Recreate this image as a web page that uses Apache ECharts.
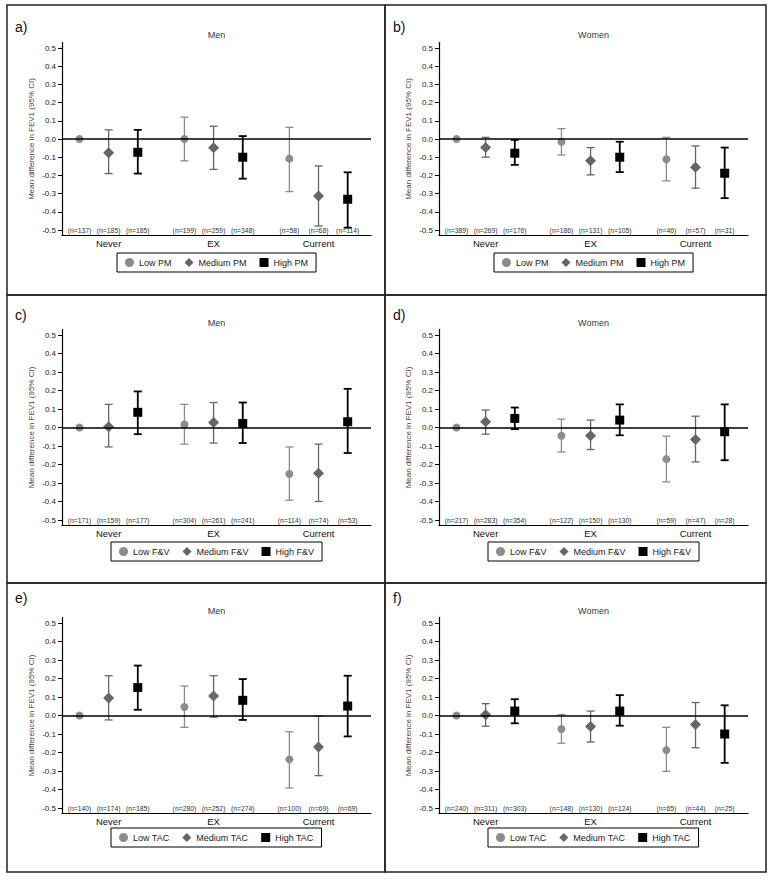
<!DOCTYPE html>
<html><head><meta charset="utf-8">
<script src="https://cdn.jsdelivr.net/npm/echarts@6/dist/echarts.min.js"></script>
<style>html,body{margin:0;padding:0;background:#fff}#c{width:772px;height:880px}</style>
</head><body><div id="c"></div>
<script>
// ---------------- data ----------------
const categories = ['Never', 'EX', 'Current'];
const levelNames = ['Low', 'Medium', 'High'];
const panelLabels = ['a)', 'b)', 'c)', 'd)', 'e)', 'f)'];
const panelTitles = ['Men', 'Women', 'Men', 'Women', 'Men', 'Women'];
const exposures = ['PM', 'PM', 'F&V', 'F&V', 'TAC', 'TAC'];
const yTicks = [-0.5, -0.4, -0.3, -0.2, -0.1, 0, 0.1, 0.2, 0.3, 0.4, 0.5];
const yAxisName = 'Mean difference in FEV1 (95% CI)';

// order in every array: Never L,M,H | EX L,M,H | Current L,M,H
const meanA = [0, -0.075, -0.073, 0, -0.048, -0.10, -0.108, -0.313, -0.331];
const lowA  = [null, -0.19, -0.19, -0.12, -0.167, -0.218, -0.289, -0.478, -0.487];
const highA = [null, 0.05, 0.05, 0.12, 0.07, 0.016, 0.064, -0.148, -0.183];
const nA    = [137, 185, 185, 199, 259, 348, 58, 68, 114];

const meanB = [0, -0.047, -0.078, -0.015, -0.12, -0.10, -0.111, -0.155, -0.188];
const lowB  = [null, -0.10, -0.142, -0.088, -0.197, -0.182, -0.23, -0.27, -0.325];
const highB = [null, 0.009, -0.005, 0.057, -0.047, -0.015, 0.009, -0.038, -0.047];
const nB    = [389, 269, 176, 186, 131, 105, 46, 57, 31];

const meanC = [0, 0.004, 0.082, 0.016, 0.027, 0.022, -0.251, -0.247, 0.031];
const lowC  = [null, -0.105, -0.036, -0.09, -0.084, -0.084, -0.393, -0.40, -0.138];
const highC = [null, 0.125, 0.195, 0.125, 0.135, 0.135, -0.105, -0.09, 0.209];
const nC    = [171, 159, 177, 304, 261, 241, 114, 74, 53];

const meanD = [0, 0.031, 0.049, -0.045, -0.045, 0.04, -0.171, -0.065, -0.023];
const lowD  = [null, -0.036, -0.009, -0.132, -0.119, -0.042, -0.294, -0.186, -0.177];
const highD = [null, 0.094, 0.108, 0.045, 0.04, 0.125, -0.047, 0.061, 0.125];
const nD    = [217, 283, 354, 122, 150, 130, 59, 47, 28];

const meanE = [0, 0.095, 0.151, 0.046, 0.106, 0.082, -0.237, -0.17, 0.051];
const lowE  = [null, -0.024, 0.031, -0.064, -0.009, -0.024, -0.392, -0.325, -0.113];
const highE = [null, 0.215, 0.27, 0.159, 0.215, 0.197, -0.088, -0.004, 0.215];
const nE    = [140, 174, 185, 280, 252, 274, 100, 69, 69];

const meanF = [0, 0.004, 0.024, -0.073, -0.059, 0.024, -0.187, -0.049, -0.1];
const lowF  = [null, -0.058, -0.042, -0.15, -0.143, -0.055, -0.302, -0.174, -0.256];
const highF = [null, 0.064, 0.088, 0.005, 0.024, 0.11, -0.064, 0.07, 0.055];
const nF    = [240, 311, 303, 148, 130, 124, 65, 44, 25];

const means = [meanA, meanB, meanC, meanD, meanE, meanF];
const lows = [lowA, lowB, lowC, lowD, lowE, lowF];
const highs = [highA, highB, highC, highD, highE, highF];
const ns = [nA, nB, nC, nD, nE, nF];

// ---------------- layout / style ----------------
const FONT = 'Liberation Sans, Arial, Helvetica, sans-serif';
const GROUP_STEP = 3.6;
const X_MIN = -0.6, X_MAX = 10;
const Y_MIN = -0.53, Y_MAX = 0.53;
const colPanelX = [7, 385], colPanelW = [378, 381];
const rowPanelY = [5, 295, 583], rowPanelH = [290, 288, 289];
const colAxisX = [62, 439], plotW = 309;
const rowY05 = [48, 335, 623], rowScale = [182, 185, 185];
const rowLegendTop = [253, 542, 828];
const rowLabelY = [27, 315, 598], rowTitleY = [35, 323, 611];
const levelColors = ['#8c8c8c', '#666666', '#000000'];
const levelSymbols = ['circle', 'diamond', 'rect'];
const levelSizes = [8, 11, 9];
const levelErrW = [1.3, 1.3, 1.8];

const ctx = document.createElement('canvas').getContext('2d');
function textW(t, size) { ctx.font = size + 'px ' + FONT; return ctx.measureText(t).width; }

const chart = echarts.init(document.getElementById('c'), null, { renderer: 'svg' });

const grids = [], xAxes = [], yAxes = [], series = [], legends = [], graphics = [];

for (let p = 0; p < 6; p++) {
  const col = p % 2, row = Math.floor(p / 2);
  const s = rowScale[row];
  const top = rowY05[row] - (Y_MAX - 0.5) * s;
  const height = (Y_MAX - Y_MIN) * s;
  grids.push({ left: colAxisX[col], top: top, width: plotW, height: height, containLabel: false });
  xAxes.push({
    type: 'value', gridIndex: p, min: X_MIN, max: X_MAX, position: 'bottom',
    axisLine: { onZero: false, lineStyle: { color: '#000', width: 1.2 } },
    axisTick: { show: false },
    splitLine: { show: false },
    axisLabel: {
      customValues: categories.map((c, g) => g * GROUP_STEP + 1),
      formatter: v => categories[Math.round((v - 1) / GROUP_STEP)],
      fontSize: 9.5, fontFamily: FONT, color: '#111', margin: 3
    }
  });
  yAxes.push({
    type: 'value', gridIndex: p, min: Y_MIN, max: Y_MAX, position: 'left',
    name: yAxisName, nameLocation: 'middle', nameGap: 27,
    nameTextStyle: { fontSize: 8, fontFamily: FONT, color: '#4d4437' },
    axisLine: { show: true, onZero: false, lineStyle: { color: '#000', width: 1.2 } },
    axisTick: { show: true, length: 4, customValues: yTicks, lineStyle: { color: '#000' } },
    splitLine: { show: false },
    axisLabel: {
      customValues: yTicks, formatter: v => v.toFixed(1),
      fontSize: 8, fontFamily: FONT, color: '#222', margin: 6
    }
  });

  const legendNames = levelNames.map(l => l + ' ' + exposures[p]);
  for (let l = 0; l < 3; l++) {
    const pts = categories.map((c, g) => [g * GROUP_STEP + l, means[p][g * 3 + l]]);
    const errs = [];
    categories.forEach((c, g) => {
      const i = g * 3 + l;
      if (lows[p][i] !== null) errs.push([g * GROUP_STEP + l, lows[p][i], highs[p][i]]);
    });
    const color = levelColors[l], lw = levelErrW[l];
    const errSeries = {
      type: 'custom', xAxisIndex: p, yAxisIndex: p, z: 2, silent: true,
      data: errs,
      renderItem: function (params, api) {
        const x = api.value(0);
        const a = api.coord([x, api.value(1)]);
        const b = api.coord([x, api.value(2)]);
        const w = 4;
        const st = { stroke: color, lineWidth: lw };
        return {
          type: 'group', children: [
            { type: 'line', shape: { x1: a[0], y1: a[1], x2: b[0], y2: b[1] }, style: st },
            { type: 'line', shape: { x1: a[0] - w, y1: a[1], x2: a[0] + w, y2: a[1] }, style: st },
            { type: 'line', shape: { x1: b[0] - w, y1: b[1], x2: b[0] + w, y2: b[1] }, style: st }
          ]
        };
      }
    };
    if (l === 0) {
      errSeries.markLine = {
        silent: true, symbol: ['none', 'none'], label: { show: false },
        lineStyle: { color: '#000', width: 1.5, type: 'solid' },
        data: [{ yAxis: 0 }]
      };
    }
    series.push(errSeries);
    series.push({
      name: legendNames[l], type: 'scatter', xAxisIndex: p, yAxisIndex: p, z: 4,
      symbol: levelSymbols[l], symbolSize: levelSizes[l],
      itemStyle: { color: color, opacity: 1 },
      data: pts, silent: true
    });
  }
  // n labels
  const nData = [];
  categories.forEach((c, g) => { for (let l = 0; l < 3; l++) nData.push([g * GROUP_STEP + l, ns[p][g * 3 + l]]); });
  series.push({
    type: 'custom', xAxisIndex: p, yAxisIndex: p, z: 3, silent: true, clip: false,
    data: nData,
    renderItem: function (params, api) {
      const pt = api.coord([api.value(0), -0.5]);
      return {
        type: 'text', x: pt[0], y: pt[1],
        style: { text: '(n=' + api.value(1) + ')', fontSize: 6.8, fontFamily: FONT, fill: '#333', align: 'center', verticalAlign: 'middle' }
      };
    }
  });

  // legend, centered under the plot
  const itemW = 9, gap = 13, pad = [5, 8], lfs = 9;
  let lw = pad[1] * 2 + gap * 2;
  legendNames.forEach(n => { lw += itemW + 5 + textW(n, lfs); });
  const cx = colAxisX[col] + plotW / 2;
  legends.push({
    data: legendNames, selectedMode: false,
    left: Math.round(cx - lw / 2), top: rowLegendTop[row],
    orient: 'horizontal', itemWidth: itemW, itemHeight: itemW, itemGap: gap,
    padding: pad, borderColor: '#000', borderWidth: 1, borderRadius: 0,
    textStyle: { fontSize: lfs, fontFamily: FONT, color: '#222' }
  });

  // panel border, label, title
  graphics.push({
    type: 'rect', silent: true,
    shape: { x: colPanelX[col], y: rowPanelY[row], width: colPanelW[col], height: rowPanelH[row] },
    style: { fill: 'none', stroke: '#222', lineWidth: 1.5 }
  });
  graphics.push({
    type: 'text', silent: true, x: colPanelX[col] + 8, y: rowLabelY[row],
    style: { text: panelLabels[p], fontSize: 14, fontFamily: FONT, fill: '#111', align: 'left', verticalAlign: 'middle' }
  });
  graphics.push({
    type: 'text', silent: true, x: cx, y: rowTitleY[row],
    style: { text: panelTitles[p], fontSize: 9, fontFamily: FONT, fill: '#333a4d', align: 'center', verticalAlign: 'middle' }
  });
}

chart.setOption({
  backgroundColor: '#fff',
  animation: false,
  grid: grids, xAxis: xAxes, yAxis: yAxes,
  legend: legends, series: series,
  graphic: { elements: graphics }
});
</script></body></html>
